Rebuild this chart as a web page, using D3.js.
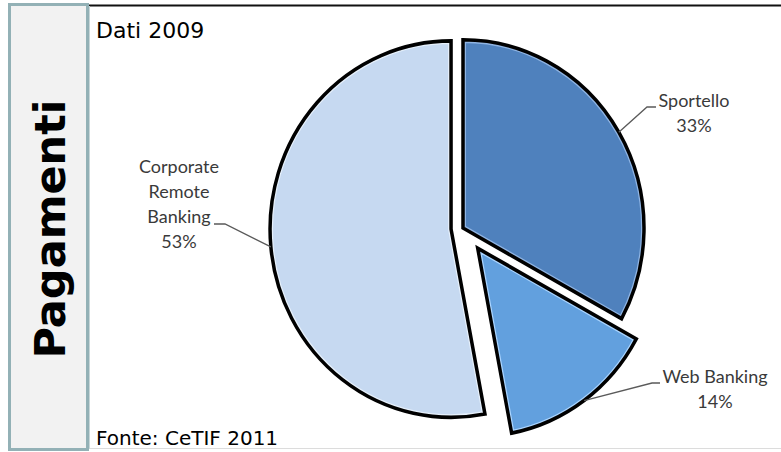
<!DOCTYPE html>
<html lang="it">
<head>
<meta charset="utf-8" />
<title>Pagamenti - Dati 2009</title>
<script src="https://cdn.jsdelivr.net/npm/d3@7"></script>
<style>
body { margin:0; background:#fff; }
svg { display:block; }
</style>
</head>
<body>
<div id="chart"></div>
<script type="text/javascript">
// dati
var categories = ["Sportello", "Web Banking", "Corporate Remote Banking"];
var labelLines = [["Sportello"], ["Web Banking"], ["Corporate", "Remote", "Banking"]];
var shares = [33, 14, 53];
var fills = ["#4f81bd", "#62a0de", "#c6d9f1"];
var rims = ["#8fb4e3", "#a9d4ff", "#e6f0fb"];
var explode = [0, 25, 12];

// label placement (text anchor point + leader elbow)
var labelPos = [
  {x:694, y:107, ex:647, ey:107, hx:656},
  {x:715, y:383, ex:652, ey:383, hx:660},
  {x:179, y:173, ex:225, ey:224, hx:214}
];

var W = 781, H = 452;
var cx = 463, cy = 228, r = 181, sy = 1.04;

var svg = d3.select("#chart").append("svg")
    .attr("width", W)
    .attr("height", H);

// left side panel
svg.append("rect")
   .attr("x", 9.5).attr("y", 4.5)
   .attr("width", 78).attr("height", 445)
   .attr("fill", "#f2f2f2")
   .attr("stroke", "#93b1b6")
   .attr("stroke-width", 3);
svg.append("text")
   .attr("transform", "translate(65,229) rotate(-90)")
   .attr("text-anchor", "middle")
   .attr("font-family", "DejaVu Sans")
   .attr("font-weight", "bold")
   .attr("font-size", 43)
   .attr("fill", "#000")
   .text("Pagamenti");

// frame lines
svg.append("line")
   .attr("x1", 89).attr("x2", W).attr("y1", 5.5).attr("y2", 5.5)
   .attr("stroke", "#111").attr("stroke-width", 2);
svg.append("line")
   .attr("x1", 89).attr("x2", W).attr("y1", 448.5).attr("y2", 448.5)
   .attr("stroke", "#dcdcdc").attr("stroke-width", 1);
svg.append("line")
   .attr("x1", 89.5).attr("x2", 89.5).attr("y1", 6).attr("y2", 449)
   .attr("stroke", "#c8d6d8").attr("stroke-width", 1);

svg.append("text")
   .attr("x", 96).attr("y", 38)
   .attr("font-family", "DejaVu Sans")
   .attr("font-size", 22)
   .attr("fill", "#000")
   .text("Dati 2009");
svg.append("text")
   .attr("x", 96).attr("y", 445)
   .attr("font-family", "DejaVu Sans")
   .attr("font-size", 20)
   .attr("fill", "#000")
   .text("Fonte: CeTIF 2011");

// pie
var pie = d3.pie().sort(null).value(function(d){ return d; });
var arcs = pie(shares);
var arc = d3.arc().innerRadius(0).outerRadius(r);

var defs = svg.append("defs");

var slices = svg.selectAll("g.slice")
  .data(arcs)
  .enter().append("g")
  .attr("class", "slice")
  .attr("transform", function(d, i){
    var a = (d.startAngle + d.endAngle) / 2;
    d.ox = cx + Math.sin(a) * explode[i];
    d.oy = cy - Math.cos(a) * explode[i];
    return "translate(" + d.ox + "," + d.oy + ") scale(1," + sy + ")";
  });

slices.each(function(d, i){
  defs.append("clipPath").attr("id", "clip" + i)
    .append("path").attr("d", arc(d));
});

slices.append("path")
  .attr("d", arc)
  .attr("fill", function(d, i){ return fills[i]; });
slices.append("path")
  .attr("d", arc)
  .attr("fill", "none")
  .attr("stroke", function(d, i){ return rims[i]; })
  .attr("stroke-width", 6)
  .attr("stroke-linejoin", "miter")
  .attr("clip-path", function(d, i){ return "url(#clip" + i + ")"; });
slices.append("path")
  .attr("d", arc)
  .attr("fill", "none")
  .attr("stroke", "#000")
  .attr("stroke-width", 3.5)
  .attr("stroke-linejoin", "miter");

// leader lines and labels
arcs.forEach(function(d, i){
  var a = (d.startAngle + d.endAngle) / 2;
  var px = d.ox + Math.sin(a) * r;
  var py = d.oy - Math.cos(a) * r * sy;
  var L = labelPos[i];
  svg.append("polyline")
     .attr("points", [[px, py], [L.ex, L.ey], [L.hx, L.ey]].map(function(p){ return p.join(","); }).join(" "))
     .attr("fill", "none")
     .attr("stroke", "#5a5a5a")
     .attr("stroke-width", 1.3);

  var t = svg.append("text")
     .attr("text-anchor", "middle")
     .attr("font-family", "Lato")
     .attr("font-size", 18)
     .attr("fill", "#3a3a3a");
  var lines = labelLines[i].concat([shares[i] + "%"]);
  lines.forEach(function(s, k){
    t.append("tspan").attr("x", L.x).attr("y", L.y + k * 25).text(s);
  });
});
</script>
</body>
</html>
